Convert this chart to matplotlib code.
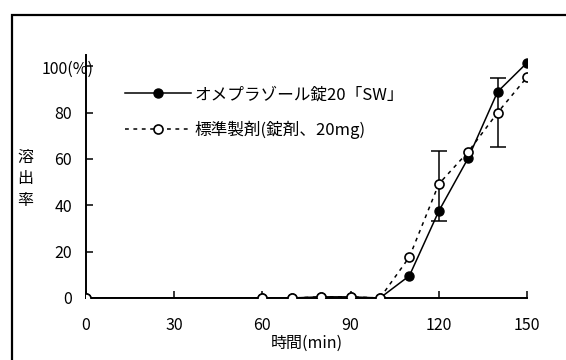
import matplotlib.pyplot as plt
from matplotlib.patches import Rectangle

plt.rcParams['font.family'] = ['Noto Sans CJK JP', 'DejaVu Sans']

# 溶出データ
time_min = [0, 60, 70, 80, 90, 100, 110, 120, 130, 140, 150]
test_rate = [0, 0, 0, 0.5, 0.5, 0, 9.6, 37.5, 60.4, 89.0, 101.5]
ref_rate = [0, 0, 0, 0.5, 0.5, 0, 17.7, 49.2, 63.1, 80.0, 95.3]

# 標準偏差 (120分, 140分)
err_time = [120, 140]
err_center = [49.2, 80.0]
err_low = [15.8, 14.7]
err_high = [14.4, 14.8]

test_label = 'オメプラゾール錠20「SW」'
ref_label = '標準製剤(錠剤、20mg)'

fig = plt.figure(figsize=(5.66, 3.6), dpi=100)
ax = fig.add_axes([86 / 566, 1 - 298 / 360, 441 / 566, (298 - 54.7) / 360])

# 外枠
fig.patches.append(Rectangle((12 / 566, -0.2), 1.5, 1.2 - 15 / 360, transform=fig.transFigure,
                             fill=False, lw=1.6, ec='black'))

ax.errorbar(err_time, err_center, yerr=[err_low, err_high], fmt='none', ecolor='black',
            elinewidth=1.1, capsize=6, capthick=1.1, zorder=2)
ax.plot(time_min, test_rate, '-', color='black', lw=1.1, marker='o', ms=6.5,
        mfc='black', mec='black', label=test_label, zorder=3)
ax.plot(time_min, ref_rate, linestyle=(0, (2.5, 3)), color='black', lw=1.1, marker='o', ms=6.5,
        mfc='white', mec='black', mew=1.2, label=ref_label, zorder=4)

ax.set_xlim(0, 150)
ax.set_ylim(0, 105)
ax.set_xticks([0, 30, 60, 90, 120, 150])
ax.set_yticks([0, 20, 40, 60, 80, 100])
ax.set_yticklabels(['0', '20', '40', '60', '80', ''])
ax.text(-0.1, 98.5, '100(%)', transform=ax.get_yaxis_transform(), ha='left', va='center', fontsize=11.5)

for s in ['top', 'right']:
    ax.spines[s].set_visible(False)
for s in ['left', 'bottom']:
    ax.spines[s].set_linewidth(1.4)
ax.tick_params(direction='in', length=5, width=1.1, labelsize=11.5)
ax.tick_params(axis='x', pad=14)
ax.tick_params(axis='y', pad=10)
ax.patch.set_alpha(0)

fig.text(25 / 566, 1 - 179 / 360, '溶\n出\n率', ha='center', va='center', fontsize=11.5, linespacing=1.35)
ax.set_xlabel('時間(min)', fontsize=11.5, labelpad=0)

ax.legend(loc='upper left', bbox_to_anchor=(0.088, 0.87), frameon=False, fontsize=12,
          handlelength=4.0, handletextpad=0.2, labelspacing=1.05, borderpad=0, borderaxespad=0)

fig.savefig('out.png', dpi=100)
